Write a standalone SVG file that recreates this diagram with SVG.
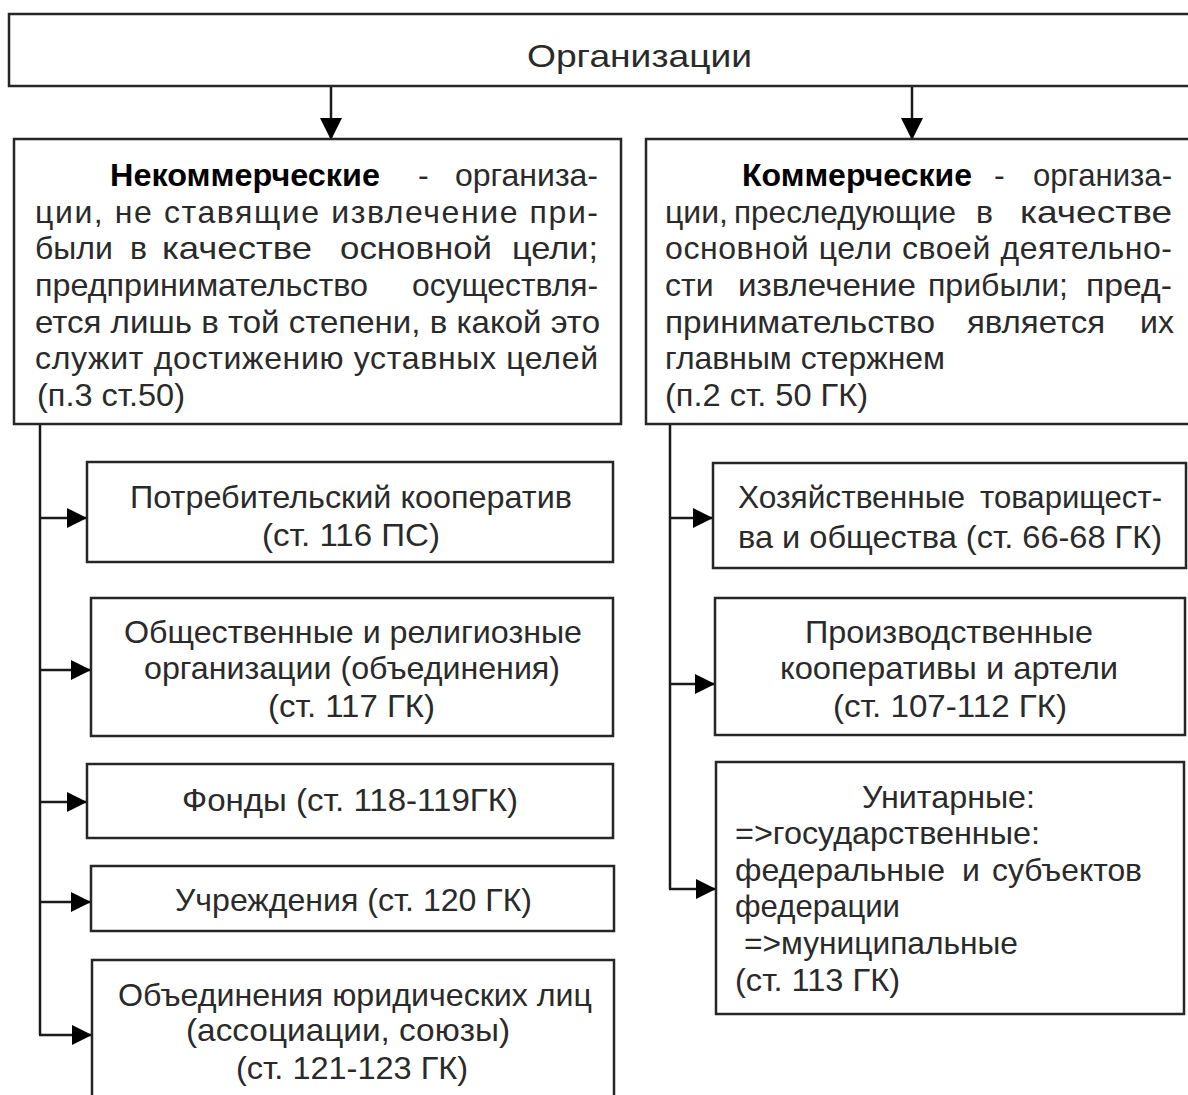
<svg xmlns="http://www.w3.org/2000/svg" width="1188" height="1095" viewBox="0 0 1188 1095">
<defs>
<style>
.box{fill:#fff;stroke:#262626;stroke-width:2.5}
.t{font-family:"Liberation Sans",Arial,sans-serif;font-size:32px;fill:#2a2a2a}
.b{font-weight:bold;fill:#000}
.ln{stroke:#1a1a1a;stroke-width:2.5;fill:none}
</style>
<marker id="ah" viewBox="0 0 20 20" refX="20" refY="10" markerWidth="20" markerHeight="20" orient="auto" markerUnits="userSpaceOnUse"><path d="M0,0 L20,10 L0,20 z" fill="#000"/></marker>
<marker id="ahb" viewBox="0 0 22 22" refX="22" refY="11" markerWidth="22" markerHeight="22" orient="auto" markerUnits="userSpaceOnUse"><path d="M0,0 L22,11 L0,22 z" fill="#000"/></marker>
</defs>
<rect width="1188" height="1095" fill="#fff"/>

<g id="connectors">
<line class="ln" x1="331" y1="86" x2="331" y2="140" marker-end="url(#ahb)"/>
<line class="ln" x1="912" y1="86" x2="912" y2="140" marker-end="url(#ahb)"/>
<line class="ln" x1="40" y1="424" x2="40" y2="1035"/>
<line class="ln" x1="39" y1="1035" x2="92" y2="1035" marker-end="url(#ah)"/>
<line class="ln" x1="40" y1="518" x2="87" y2="518" marker-end="url(#ah)"/>
<line class="ln" x1="40" y1="670" x2="91" y2="670" marker-end="url(#ah)"/>
<line class="ln" x1="40" y1="802" x2="87" y2="802" marker-end="url(#ah)"/>
<line class="ln" x1="40" y1="902" x2="91" y2="902" marker-end="url(#ah)"/>
<line class="ln" x1="670" y1="424" x2="670" y2="889"/>
<line class="ln" x1="670" y1="518" x2="713" y2="518" marker-end="url(#ah)"/>
<line class="ln" x1="670" y1="684" x2="715" y2="684" marker-end="url(#ah)"/>
<line class="ln" x1="669" y1="889" x2="716" y2="889" marker-end="url(#ah)"/>
</g>

<g id="root">
<rect class="box" x="9" y="14" width="1200" height="72"/>
<text class="t" x="527" y="67" font-size="37" fill="#111" textLength="225" lengthAdjust="spacingAndGlyphs">Организации</text>
</g>

<g id="noncommercial">
<rect class="box" x="14" y="139" width="607" height="285"/>
<text class="t b" x="110" y="186" textLength="270" lengthAdjust="spacingAndGlyphs">Некоммерческие</text>
<text class="t" x="418" y="186">-</text>
<text class="t" x="455" y="186" textLength="143" lengthAdjust="spacingAndGlyphs">организа-</text>
<text class="t" x="35" y="223" textLength="563" lengthAdjust="spacing">ции, не ставящие извлечение при-</text>
<text class="t" y="259"><tspan x="35">были</tspan><tspan x="130">в</tspan><tspan x="162" textLength="150" lengthAdjust="spacingAndGlyphs">качестве</tspan><tspan x="340" textLength="152" lengthAdjust="spacingAndGlyphs">основной</tspan><tspan x="512" textLength="86" lengthAdjust="spacingAndGlyphs">цели;</tspan></text>
<text class="t" y="296"><tspan x="35" textLength="333" lengthAdjust="spacingAndGlyphs">предпринимательство</tspan><tspan x="412" textLength="186" lengthAdjust="spacingAndGlyphs">осуществля-</tspan></text>
<text class="t" x="35" y="333" textLength="565" lengthAdjust="spacingAndGlyphs">ется лишь в той степени, в какой это</text>
<text class="t" x="35" y="369" textLength="563" lengthAdjust="spacing">служит достижению уставных целей</text>
<text class="t" x="37" y="406" textLength="148" lengthAdjust="spacingAndGlyphs">(п.3 ст.50)</text>
</g>

<g id="commercial">
<rect class="box" x="646" y="139" width="560" height="285"/>
<text class="t b" x="742" y="186" textLength="230" lengthAdjust="spacingAndGlyphs">Коммерческие</text>
<text class="t" x="994" y="186">-</text>
<text class="t" x="1033" y="186" textLength="139" lengthAdjust="spacingAndGlyphs">организа-</text>
<text class="t" y="223"><tspan x="665">ции,</tspan><tspan x="734" textLength="222" lengthAdjust="spacingAndGlyphs">преследующие</tspan><tspan x="976">в</tspan><tspan x="1020" textLength="152" lengthAdjust="spacingAndGlyphs">качестве</tspan></text>
<text class="t" x="665" y="259" textLength="507" lengthAdjust="spacing">основной цели своей деятельно-</text>
<text class="t" y="296"><tspan x="665">сти</tspan><tspan x="738" textLength="178" lengthAdjust="spacingAndGlyphs">извлечение</tspan><tspan x="928" textLength="140" lengthAdjust="spacingAndGlyphs">прибыли;</tspan><tspan x="1086" textLength="86" lengthAdjust="spacingAndGlyphs">пред-</tspan></text>
<text class="t" y="333"><tspan x="665" textLength="270" lengthAdjust="spacingAndGlyphs">принимательство</tspan><tspan x="967" textLength="138" lengthAdjust="spacingAndGlyphs">является</tspan><tspan x="1140">их</tspan></text>
<text class="t" x="665" y="369" textLength="280" lengthAdjust="spacingAndGlyphs">главным стержнем</text>
<text class="t" x="665" y="406" textLength="203" lengthAdjust="spacingAndGlyphs">(п.2 ст. 50 ГК)</text>
</g>

<g id="n1">
<rect class="box" x="87" y="462" width="526" height="100"/>
<text class="t" x="130" y="508" textLength="442" lengthAdjust="spacingAndGlyphs">Потребительский кооператив</text>
<text class="t" x="262" y="546" textLength="178" lengthAdjust="spacingAndGlyphs">(ст. 116 ПС)</text>
</g>
<g id="n2">
<rect class="box" x="91" y="598" width="522" height="138"/>
<text class="t" x="124" y="643" textLength="458" lengthAdjust="spacingAndGlyphs">Общественные и религиозные</text>
<text class="t" x="144" y="679" textLength="416" lengthAdjust="spacingAndGlyphs">организации (объединения)</text>
<text class="t" x="268" y="717" textLength="167" lengthAdjust="spacingAndGlyphs">(ст. 117 ГК)</text>
</g>
<g id="n3">
<rect class="box" x="87" y="764" width="526" height="74"/>
<text class="t" x="182" y="811" textLength="336" lengthAdjust="spacingAndGlyphs">Фонды (ст. 118-119ГК)</text>
</g>
<g id="n4">
<rect class="box" x="91" y="866" width="523" height="65"/>
<text class="t" x="175" y="911" textLength="357" lengthAdjust="spacingAndGlyphs">Учреждения (ст. 120 ГК)</text>
</g>
<g id="n5">
<rect class="box" x="92" y="960" width="522" height="160"/>
<text class="t" x="118" y="1006" textLength="474" lengthAdjust="spacingAndGlyphs">Объединения юридических лиц</text>
<text class="t" x="186" y="1041" textLength="324" lengthAdjust="spacingAndGlyphs">(ассоциации, союзы)</text>
<text class="t" x="236" y="1079" textLength="232" lengthAdjust="spacingAndGlyphs">(ст. 121-123 ГК)</text>
</g>

<g id="c1">
<rect class="box" x="713" y="463" width="473" height="105"/>
<text class="t" y="508"><tspan x="738" textLength="227" lengthAdjust="spacingAndGlyphs">Хозяйственные</tspan><tspan x="980" textLength="182" lengthAdjust="spacingAndGlyphs">товарищест-</tspan></text>
<text class="t" x="738" y="548" textLength="424" lengthAdjust="spacingAndGlyphs">ва и общества (ст. 66-68 ГК)</text>
</g>
<g id="c2">
<rect class="box" x="715" y="598" width="470" height="137"/>
<text class="t" x="805" y="643" textLength="288" lengthAdjust="spacingAndGlyphs">Производственные</text>
<text class="t" x="780" y="679" textLength="338" lengthAdjust="spacingAndGlyphs">кооперативы и артели</text>
<text class="t" x="833" y="717" textLength="234" lengthAdjust="spacingAndGlyphs">(ст. 107-112 ГК)</text>
</g>
<g id="c3">
<rect class="box" x="716" y="762" width="468" height="252"/>
<text class="t" x="862" y="808" textLength="173" lengthAdjust="spacingAndGlyphs">Унитарные:</text>
<text class="t" x="735" y="844" textLength="305" lengthAdjust="spacingAndGlyphs">=&gt;государственные:</text>
<text class="t" y="881"><tspan x="735" textLength="210" lengthAdjust="spacingAndGlyphs">федеральные</tspan><tspan x="962">и</tspan><tspan x="992" textLength="150" lengthAdjust="spacingAndGlyphs">субъектов</tspan></text>
<text class="t" x="735" y="917" textLength="165" lengthAdjust="spacingAndGlyphs">федерации</text>
<text class="t" x="744" y="954" textLength="274" lengthAdjust="spacingAndGlyphs">=&gt;муниципальные</text>
<text class="t" x="735" y="991" textLength="165" lengthAdjust="spacingAndGlyphs">(ст. 113 ГК)</text>
</g>
</svg>
